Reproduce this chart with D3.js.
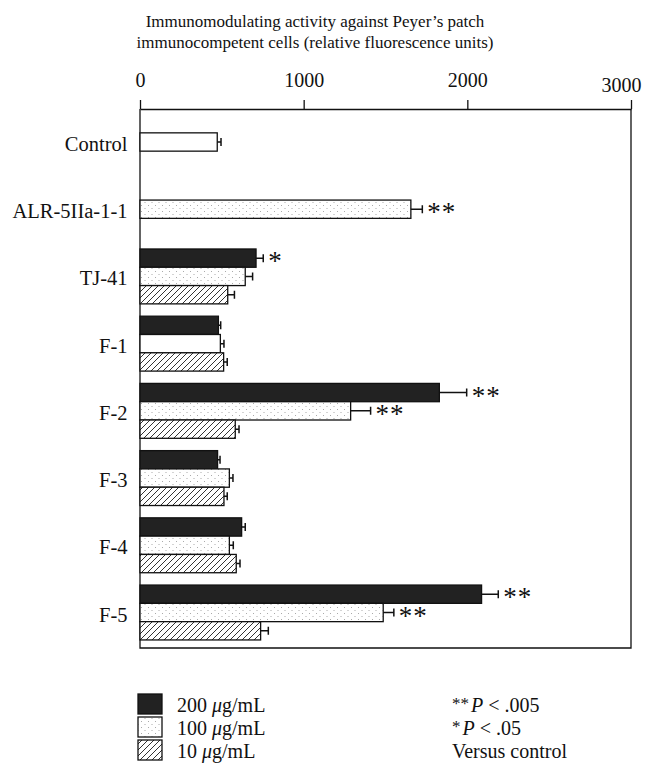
<!DOCTYPE html>
<html>
<head>
<meta charset="utf-8">
<script src="https://cdn.jsdelivr.net/npm/d3@7"></script>
<style>
  body { margin: 0; background: #fff; }
  svg text { font-family: "Liberation Serif", "DejaVu Serif", serif; fill: #111; }
</style>
</head>
<body>
<svg id="chart"></svg>
<script>
// categories and values (relative fluorescence units)
const categories = ["Control", "ALR-5IIa-1-1", "TJ-41", "F-1", "F-2", "F-3", "F-4", "F-5"];
const dose200 = [null, null, 709, 479, 1829, 474, 621, 2087];
const dose100 = [472, 1655, 643, 491, 1287, 546, 546, 1486];
const dose10 = [null, null, 536, 511, 582, 513, 588, 737];
const err200 = [null, null, 44, 14, 167, 15, 22, 102];
const err100 = [23, 70, 45, 22, 122, 22, 24, 65];
const err10 = [null, null, 41, 22, 23, 20, 23, 47];
const sig200 = ["", "", "*", "", "**", "", "", "**"];
const sig100 = ["", "**", "", "", "**", "", "", "**"];
const sig10 = ["", "", "", "", "", "", "", ""];
const tickValues = [0, 1000, 2000, 3000];
const doseLabels = ["200", "100", "10"];
const pLabels = ["**", "*"];
const pValues = [".005", ".05"];

// bars drawn plain white instead of dotted
const plainWhite = ["Control", "F-1"];

const width = 656;
const height = 775;

const svg = d3.select("#chart")
    .attr("width", width)
    .attr("height", height);

// patterns
const defs = svg.append("defs");
const dots = defs.append("pattern")
    .attr("id", "dots")
    .attr("patternUnits", "userSpaceOnUse")
    .attr("width", 7)
    .attr("height", 6);
dots.append("rect").attr("width", 7).attr("height", 6).attr("fill", "#fff");
dots.append("rect").attr("x", 1).attr("y", 1).attr("width", 1).attr("height", 1).attr("fill", "#aaa");
dots.append("rect").attr("x", 4.5).attr("y", 4).attr("width", 1).attr("height", 1).attr("fill", "#aaa");

const hatch = defs.append("pattern")
    .attr("id", "hatch")
    .attr("patternUnits", "userSpaceOnUse")
    .attr("width", 6)
    .attr("height", 6);
hatch.append("rect").attr("width", 6).attr("height", 6).attr("fill", "#fff");
hatch.append("path")
    .attr("d", "M0,6 L6,0 M-1,1 L1,-1 M5,7 L7,5")
    .attr("stroke", "#333")
    .attr("stroke-width", 1);

const x = d3.scaleLinear().domain([0, 3000]).range([140, 631]);
const y = d3.scalePoint().domain(categories).range([142, 612.5]);
const bh = 18.3;
const plotTop = 109, plotBottom = 648;

// title
const title = svg.append("text")
    .attr("text-anchor", "middle")
    .style("font-size", "17px");
title.append("tspan").attr("x", 315).attr("y", 27)
    .text("Immunomodulating activity against Peyer\u2019s patch");
title.append("tspan").attr("x", 315).attr("y", 48)
    .text("immunocompetent cells (relative fluorescence units)");

// axis on top
const axis = svg.append("g")
    .attr("transform", `translate(0,${plotTop})`)
    .call(d3.axisTop(x).tickValues(tickValues).tickFormat(d3.format("d"))
        .tickSize(9).tickSizeOuter(0).tickPadding(13));
axis.select(".domain").attr("stroke", "#111").attr("stroke-width", 1.3);
axis.selectAll(".tick line").attr("stroke", "#111").attr("stroke-width", 1.3);
axis.selectAll(".tick text")
    .style("font-size", "20px")
    .style("font-family", "Liberation Serif, serif")
    .attr("fill", "#111")
    .attr("dx", d => d === 3000 ? -10 : 0)
    .attr("dy", d => d === 3000 ? 5 : 0);

// frame
svg.append("path")
    .attr("d", `M${x(0)},${plotTop}V${plotBottom}H${x(3000)}V${plotTop}`)
    .attr("fill", "none")
    .attr("stroke", "#111")
    .attr("stroke-width", 1.3);

// category labels
svg.append("g").selectAll("text")
    .data(categories)
    .enter()
    .append("text")
    .attr("x", 127.5)
    .attr("y", d => y(d))
    .attr("dy", "0.44em")
    .attr("text-anchor", "end")
    .style("font-size", "20.5px")
    .text(d => d);

// bar rows: offset in bar heights from the category center
const series = [
    { values: dose200, errs: err200, sig: sig200, offset: -1, fill: "#222" },
    { values: dose100, errs: err100, sig: sig100, offset: 0, fill: "url(#dots)" },
    { values: dose10, errs: err10, sig: sig10, offset: 1, fill: "url(#hatch)" }
];

const rows = [];
series.forEach(s => {
    categories.forEach((c, i) => {
        if (s.values[i] == null) return;
        rows.push({
            cat: c, value: s.values[i], err: s.errs[i], sig: s.sig[i],
            cy: y(c) + s.offset * bh,
            fill: (s.offset === 0 && plainWhite.includes(c)) ? "#fff" : s.fill
        });
    });
});

const bars = svg.append("g");

bars.selectAll("rect")
    .data(rows)
    .enter()
    .append("rect")
    .attr("x", x(0))
    .attr("y", d => d.cy - bh / 2)
    .attr("width", d => x(d.value) - x(0))
    .attr("height", bh)
    .attr("fill", d => d.fill)
    .attr("stroke", "#111")
    .attr("stroke-width", 1.3);

// error bars
bars.selectAll(".err")
    .data(rows)
    .enter()
    .append("path")
    .attr("class", "err")
    .attr("d", d => `M${x(d.value)},${d.cy}H${x(d.value + d.err)}M${x(d.value + d.err)},${d.cy - 4}V${d.cy + 4}`)
    .attr("fill", "none")
    .attr("stroke", "#111")
    .attr("stroke-width", 1.5);

// significance marks
bars.selectAll(".sig")
    .data(rows.filter(d => d.sig))
    .enter()
    .append("text")
    .attr("class", "sig")
    .attr("x", d => x(d.value + d.err) + 5)
    .attr("y", d => d.cy + 12)
    .style("font-size", "27px")
    .style("letter-spacing", "1px")
    .attr("fill", "#444")
    .text(d => d.sig);

// legend
const fills = ["#222", "url(#dots)", "url(#hatch)"];
const legend = svg.append("g");
doseLabels.forEach((lab, i) => {
    const ly = 694 + i * 23;
    legend.append("rect")
        .attr("x", 138).attr("y", ly)
        .attr("width", 24).attr("height", 20)
        .attr("fill", fills[i])
        .attr("stroke", "#111")
        .attr("stroke-width", 1.3);
    const t = legend.append("text")
        .attr("x", 177).attr("y", ly + 18)
        .style("font-size", "20px");
    t.append("tspan").text(lab + " ");
    t.append("tspan").style("font-style", "italic").text("\u03bc");
    t.append("tspan").text("g/mL");
});

pLabels.forEach((lab, i) => {
    const t = legend.append("text")
        .attr("x", 452).attr("y", 712 + i * 23)
        .style("font-size", "20px");
    t.append("tspan").style("font-size", "17px").attr("dy", -3).text(lab);
    t.append("tspan").style("font-style", "italic").attr("dy", 3).attr("dx", 2).text("P");
    t.append("tspan").text(" < " + pValues[i]);
});
legend.append("text")
    .attr("x", 452).attr("y", 758)
    .style("font-size", "20px")
    .text("Versus control");
</script>
</body>
</html>
